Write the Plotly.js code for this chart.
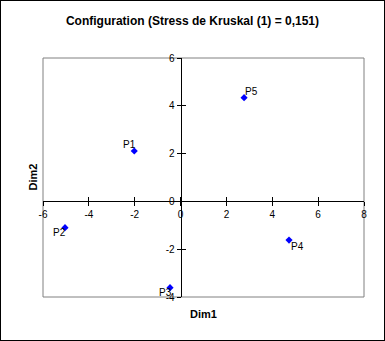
<!DOCTYPE html>
<html>
<head>
<meta charset="utf-8">
<script src="https://cdn.plot.ly/plotly-3.0.1.min.js"></script>
<style>
html,body{margin:0;padding:0;background:#fff;}
#chart{position:absolute;left:0;top:0;width:383px;height:339px;border:1px solid #000;}
</style>
</head>
<body>
<div id="chart"></div>
<script>
const labels = ["P1", "P2", "P3", "P4", "P5"];
const dim1 = [-2.02, -5.04, -0.46, 4.73, 2.77];
const dim2 = [2.11, -1.10, -3.61, -1.62, 4.34];
const xTicks = [-6, -4, -2, 0, 2, 4, 6, 8];
const yTicks = [-4, -2, 0, 2, 4, 6];
const titleText = "Configuration (Stress de Kruskal (1) = 0,151)";

// label offsets in pixels (style only)
const labelShiftX = [-5, -6, -5, 8, 7];
const labelShiftY = [6, -5, -5, -6, 6];

const font = "Liberation Sans, Arial, sans-serif";
const xr = [-6, 8], yr = [-4, 6];
const xPos = (0 - yr[0]) / (yr[1] - yr[0]);
const yPos = (0 - xr[0]) / (xr[1] - xr[0]);

const trace = {
  x: dim1, y: dim2,
  type: "scatter", mode: "markers",
  marker: {symbol: "diamond", size: 5.5, color: "#0000FF"},
  cliponaxis: false,
  hoverinfo: "none"
};

const axisCommon = {
  showgrid: false, zeroline: false, showline: true, linecolor: "#000", linewidth: 1,
  ticks: "outside", ticklen: 4, tickcolor: "#000", tickwidth: 1,
  tickfont: {family: font, size: 10, color: "#000"},
  anchor: "free", fixedrange: true
};

const pointLabels = labels.map((t, i) => ({
  text: t, x: dim1[i], y: dim2[i], xref: "x", yref: "y",
  xanchor: "center", yanchor: "middle", xshift: labelShiftX[i], yshift: labelShiftY[i],
  showarrow: false, font: {family: font, size: 10, color: "#000"}
}));

const layout = {
  width: 383, height: 339,
  margin: {l: 42, r: 20, t: 57, b: 43},
  paper_bgcolor: "#fff", plot_bgcolor: "#fff",
  showlegend: false,
  title: {text: titleText, font: {family: font, size: 12, color: "#000", weight: "bold"},
          x: 0.5, xref: "container", xanchor: "center", y: 1 - 20/339, yref: "container", yanchor: "middle"},
  xaxis: Object.assign({}, axisCommon, {range: xr, tickvals: xTicks, ticktext: xTicks.map(String), position: xPos}),
  yaxis: Object.assign({}, axisCommon, {range: yr, tickvals: yTicks, ticktext: yTicks.map(String), position: yPos}),
  xaxis2: {overlaying: "x", matches: "x", anchor: "free", position: xPos, range: xr, tickvals: xTicks,
           ticks: "inside", ticklen: 4, tickcolor: "#000", showticklabels: false, showline: false,
           showgrid: false, zeroline: false, fixedrange: true},
  yaxis2: {overlaying: "y", matches: "y", anchor: "free", position: yPos, range: yr, tickvals: yTicks,
           ticks: "inside", ticklen: 4, tickcolor: "#000", showticklabels: false, showline: false,
           showgrid: false, zeroline: false, fixedrange: true},
  shapes: [{type: "rect", xref: "paper", yref: "paper", x0: 0, x1: 1, y0: 0, y1: 1,
            line: {color: "#808080", width: 1}, layer: "below"}],
  annotations: [
    {text: "Dim1", xref: "paper", yref: "paper", x: 0.5, y: 0, yshift: -17, yanchor: "middle",
     showarrow: false, font: {family: font, size: 11, color: "#000", weight: "bold"}},
    {text: "Dim2", xref: "paper", yref: "paper", x: 0, xshift: -11, y: 0.5, textangle: -90,
     xanchor: "center", yanchor: "middle",
     showarrow: false, font: {family: font, size: 11, color: "#000", weight: "bold"}}
  ].concat(pointLabels)
};

const dummyX = {x: [null], y: [null], xaxis: "x2", yaxis: "y", type: "scatter", mode: "markers", hoverinfo: "none"};
const dummyY = {x: [null], y: [null], xaxis: "x", yaxis: "y2", type: "scatter", mode: "markers", hoverinfo: "none"};

Plotly.newPlot("chart", [dummyX, dummyY, trace], layout, {staticPlot: true, displayModeBar: false});
</script>
</body>
</html>
